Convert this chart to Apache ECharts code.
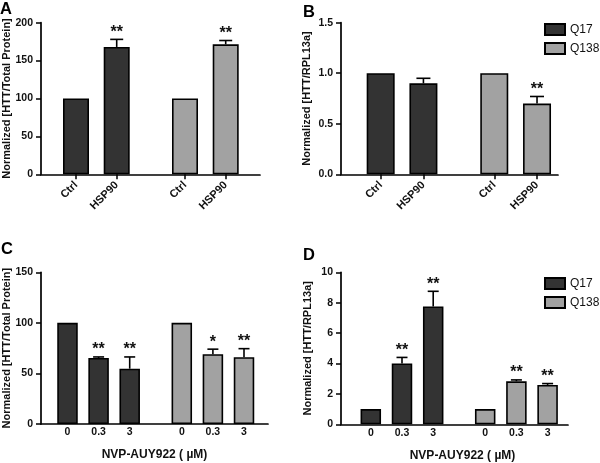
<!DOCTYPE html>
<html>
<head>
<meta charset="utf-8">
<script src="https://cdn.jsdelivr.net/npm/echarts@6/dist/echarts.min.js"></script>
<style>html,body{margin:0;padding:0;background:#fff}#c{width:600px;height:463px}</style>
</head>
<body>
<div id="c"></div>
<script>
// ---------- data ----------
const abCategories = ['Ctrl', 'HSP90'];
const cdCategories = ['0', '0.3', '3'];
const seriesNames = ['Q17', 'Q138'];

const aQ17 = [100, 168];   const aQ17Err = [0, 10];   const aQ17Sig = ['', '**'];
const aQ138 = [100, 171.5]; const aQ138Err = [0, 5];  const aQ138Sig = ['', '**'];

const bQ17 = [1.0, 0.90];  const bQ17Err = [0, 0.05]; const bQ17Sig = ['', ''];
const bQ138 = [1.0, 0.70]; const bQ138Err = [0, 0.07]; const bQ138Sig = ['', '**'];

const cQ17 = [100, 65.3, 54.7]; const cQ17Err = [0, 1, 11.6]; const cQ17Sig = ['', '**', '**'];
const cQ138 = [100, 69, 66];    const cQ138Err = [0, 5, 8.5]; const cQ138Sig = ['', '*', '**'];

const dQ17 = [1, 4.0, 7.75];    const dQ17Err = [0, 0.4, 1.0];   const dQ17Sig = ['', '**', '**'];
const dQ138 = [1, 2.83, 2.59];  const dQ138Err = [0, 0.09, 0.09]; const dQ138Sig = ['', '**', '**'];

const yTitleAC = 'Normalized [HTT/Total Protein]';
const yTitleBD = 'Normalized [HTT/RPL13a]';
const xTitleCD = 'NVP-AUY922 ( \u00B5M)';

// ---------- style ----------
const FONT = '"Liberation Sans", Arial, Helvetica, sans-serif';
const TXT = '#111111';
const colors = {Q17: '#333333', Q138: '#a2a2a2'};

const grid = [], xAxis = [], yAxis = [], series = [], title = [];

function addPanel(cfg) {
  const gi = grid.length;
  grid.push({left: cfg.left, top: cfg.top, width: cfg.width, height: cfg.height, outerBoundsMode: 'none'});
  xAxis.push({
    gridIndex: gi, type: 'value', min: 0, max: 1,
    axisLine: {show: true, onZero: false, lineStyle: {color: '#000', width: 1.7}},
    axisTick: {show: false}, axisLabel: {show: false}, splitLine: {show: false},
    name: cfg.xName || '', nameLocation: 'middle', nameGap: 25, nameMoveOverlap: false,
    nameTextStyle: {fontFamily: FONT, fontSize: 12, fontWeight: 'bold', color: TXT, padding: cfg.xNamePad || 0}
  });
  yAxis.push({
    gridIndex: gi, type: 'value', min: cfg.min, max: cfg.max, interval: cfg.interval,
    axisLine: {show: true, lineStyle: {color: '#000', width: 1.7}},
    axisTick: {show: true, length: 5, lineStyle: {color: '#000', width: 1.5}},
    axisLabel: {fontFamily: FONT, fontSize: 10.5, fontWeight: 'bold', color: TXT, margin: 8,
      formatter: cfg.fmt || null},
    splitLine: {show: false},
    name: cfg.yName, nameLocation: 'middle', nameGap: cfg.nameGap, nameMoveOverlap: false,
    nameTextStyle: {fontFamily: FONT, fontSize: 11, fontWeight: 'bold', color: TXT}
  });
  title.push({text: cfg.letter, left: cfg.letterX, top: cfg.letterY, padding: 0,
    textStyle: {fontFamily: FONT, fontSize: 16.5, fontWeight: 'bold', color: '#000'}});

  cfg.groups.forEach(function (g) {
    const idx = grid.length;
    grid.push({left: g.left, top: cfg.top, width: g.width, height: cfg.height, outerBoundsMode: 'none'});
    xAxis.push({
      gridIndex: idx, type: 'category', data: cfg.categories,
      axisLine: {show: false},
      axisTick: {show: cfg.ticks, alignWithLabel: true, length: 5, lineStyle: {color: '#000', width: 1.5}},
      axisLabel: {fontFamily: FONT, fontSize: cfg.xLabelSize, fontWeight: 'bold', color: TXT,
        rotate: cfg.rotate || 0, margin: cfg.xLabelMargin, interval: 0}
    });
    yAxis.push({gridIndex: idx, type: 'value', min: cfg.min, max: cfg.max, interval: cfg.interval, show: false});
    series.push({
      type: 'bar', name: g.name, xAxisIndex: idx, yAxisIndex: idx, data: g.values,
      barWidth: cfg.barWidth, silent: true,
      itemStyle: {color: colors[g.name], borderColor: '#000', borderWidth: 1.6}
    });
    const vals = g.values, errs = g.err, sigs = g.sig;
    series.push({
      type: 'custom', name: g.name + ' err', xAxisIndex: idx, yAxisIndex: idx, z: 5, silent: true, clip: false,
      encode: {x: 0, y: 1},
      data: vals.map(function (v, i) { return [i, v, errs[i]]; }),
      renderItem: function (params, api) {
        const i = params.dataIndex;
        const cat = api.value(0), v = api.value(1), e = api.value(2);
        const top = api.coord([cat, v]);
        const et = api.coord([cat, v + e]);
        const half = cfg.cap / 2;
        const children = [];
        if (e > 0) {
          children.push({type: 'line', shape: {x1: top[0], y1: top[1], x2: top[0], y2: et[1]},
            style: {stroke: '#000', lineWidth: 1.6}});
          children.push({type: 'line', shape: {x1: top[0] - half, y1: et[1], x2: top[0] + half, y2: et[1]},
            style: {stroke: '#000', lineWidth: 1.6}});
        }
        if (sigs[i]) {
          children.push({type: 'text', x: top[0], y: et[1] + 1,
            style: {text: sigs[i], align: 'center', verticalAlign: 'bottom',
              fontFamily: FONT, fontSize: 16, fontWeight: 'bold', fill: TXT}});
        }
        return {type: 'group', children: children};
      }
    });
  });
}

addPanel({letter: 'A', letterX: 0, letterY: 1, left: 41, top: 22.7, width: 219, height: 151.6,
  min: 0, max: 200, interval: 50, yName: yTitleAC, nameGap: 29,
  categories: abCategories, ticks: true, rotate: 45, xLabelSize: 11, xLabelMargin: 9,
  barWidth: 26, cap: 13,
  groups: [
    {name: seriesNames[0], left: 55.65, width: 81.4, values: aQ17, err: aQ17Err, sig: aQ17Sig},
    {name: seriesNames[1], left: 164.65, width: 81.4, values: aQ138, err: aQ138Err, sig: aQ138Sig}
  ]});

addPanel({letter: 'B', letterX: 303, letterY: 4, left: 341, top: 22.7, width: 217, height: 151.6,
  min: 0, max: 1.5, interval: 0.5, yName: yTitleBD, nameGap: 29, fmt: function (v) { return v.toFixed(1); },
  categories: abCategories, ticks: true, rotate: 45, xLabelSize: 11, xLabelMargin: 9,
  barWidth: 28, cap: 14,
  groups: [
    {name: seriesNames[0], left: 359.3, width: 85.5, values: bQ17, err: bQ17Err, sig: bQ17Sig},
    {name: seriesNames[1], left: 472.9, width: 85.5, values: bQ138, err: bQ138Err, sig: bQ138Sig}
  ]});

addPanel({letter: 'C', letterX: 1, letterY: 241, left: 41, top: 272.3, width: 227, height: 151.7,
  min: 0, max: 150, interval: 50, yName: yTitleAC, nameGap: 29, xName: xTitleCD,
  categories: cdCategories, ticks: false, xLabelSize: 10.5, xLabelMargin: 3,
  barWidth: 20.5, cap: 11,
  groups: [
    {name: seriesNames[0], left: 51.95, width: 93.3, values: cQ17, err: cQ17Err, sig: cQ17Sig},
    {name: seriesNames[1], left: 166.25, width: 93.3, values: cQ138, err: cQ138Err, sig: cQ138Sig}
  ]});

addPanel({letter: 'D', letterX: 303, letterY: 247, left: 341, top: 272.3, width: 227, height: 152,
  min: 0, max: 10, interval: 2, yName: yTitleBD, nameGap: 28, xName: xTitleCD, xNamePad: [0, 0, 0, 16],
  categories: cdCategories, ticks: false, xLabelSize: 10.5, xLabelMargin: 3,
  barWidth: 20.5, cap: 11,
  groups: [
    {name: seriesNames[0], left: 355.2, width: 93.6, values: dQ17, err: dQ17Err, sig: dQ17Sig},
    {name: seriesNames[1], left: 469.6, width: 93.6, values: dQ138, err: dQ138Err, sig: dQ138Sig}
  ]});

function legendAt(left, top) {
  return {data: seriesNames, left: left, top: top, orient: 'vertical', icon: 'rect',
    itemWidth: 20, itemHeight: 11, itemGap: 6, selectedMode: false, padding: 0,
    textStyle: {fontFamily: FONT, fontSize: 12, color: TXT}};
}

const chart = echarts.init(document.getElementById('c'), null, {renderer: 'canvas'});
chart.setOption({
  animation: false,
  backgroundColor: '#fff',
  title: title,
  legend: [legendAt(544, 23), legendAt(544, 277)],
  grid: grid, xAxis: xAxis, yAxis: yAxis, series: series
});
</script>
</body>
</html>
